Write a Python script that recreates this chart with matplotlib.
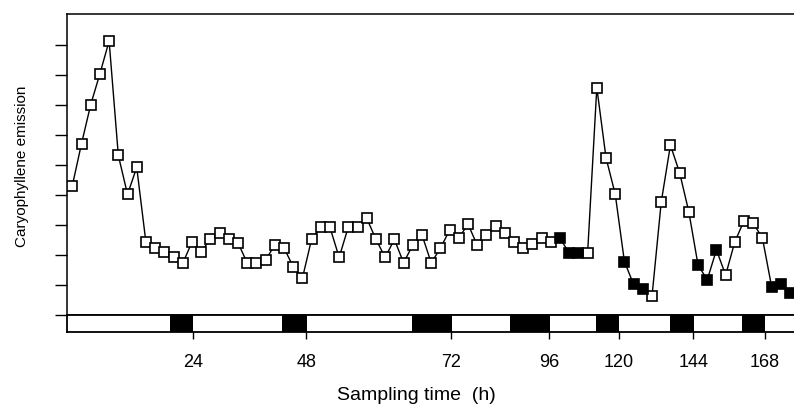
import matplotlib
matplotlib.use("Agg")
import matplotlib.pyplot as plt
import numpy as np

plt.rcParams['font.family'] = ['Liberation Sans', 'DejaVu Sans']

# emission per sample (sample index along x, arbitrary units)
emission = [4.31, 5.71, 7.01, 8.04, 9.13, 5.32, 4.02, 4.92, 2.42, 2.22,
            2.11, 1.92, 1.72, 2.43, 2.11, 2.52, 2.72, 2.53, 2.41, 1.74,
            1.72, 1.83, 2.33, 2.24, 1.61, 1.22, 2.52, 2.92, 2.92, 1.92,
            2.94, 2.92, 3.22, 2.52, 1.92, 2.52, 1.74, 2.33, 2.67, 1.74,
            2.22, 2.83, 2.56, 3.03, 2.33, 2.67, 2.97, 2.74, 2.44, 2.22,
            2.36, 2.58, 2.44, 2.56, 2.06, 2.06, 2.06, 7.58, 5.24, 4.03,
            1.78, 1.02, 0.86, 0.63, 3.76, 5.66, 4.74, 3.44, 1.67, 1.17,
            2.17, 1.33, 2.44, 3.14, 3.06, 2.56, 0.94, 1.03, 0.74]
# samples drawn with filled symbols
filled_idx = [53, 54, 55, 60, 61, 62, 68, 69, 70, 76, 77, 78]

# dark periods (in sample-index units)
dark_start = [10.62, 22.83, 36.89, 47.58, 56.92, 64.97, 72.76]
dark_end = [13.15, 25.48, 41.24, 51.92, 59.46, 67.58, 75.29]

# time ticks (h) at their sample-index positions
tick_pos = [13.15, 25.45, 41.15, 51.85, 59.4, 67.5, 75.25]
tick_labels = ['24', '48', '72', '96', '120', '144', '168']

x = np.arange(len(emission))
y = np.array(emission)
is_filled = np.zeros(len(emission), dtype=bool)
is_filled[filled_idx] = True

fig = plt.figure(figsize=(7.94, 4.05), dpi=100)
W, H = 794.0, 405.0
ax = fig.add_axes([66.7 / W, 1 - 315 / H, (W - 66.7) / W, (315 - 14) / H])
axb = fig.add_axes([66.7 / W, 1 - 332 / H, (W - 66.7) / W, 17 / H], sharex=ax)

ax.plot(x, y, color='black', lw=1.0, zorder=2)
ax.plot(x[~is_filled], y[~is_filled], 's', ms=6.8, mfc='white', mec='black',
        mew=1.2, ls='none', zorder=3)
ax.plot(x[is_filled], y[is_filled], 's', ms=6.8, mfc='black', mec='black',
        mew=1.2, ls='none', zorder=3)

ax.set_xlim(-0.61, 78.43)
ax.set_ylim(0, 10.03)
ax.set_yticks(np.arange(0, 10, 1))
ax.set_yticklabels([])
ax.tick_params(axis='y', direction='out', length=9, width=1.0)
ax.tick_params(axis='x', bottom=False, labelbottom=False)
ax.spines['right'].set_visible(False)
for s in ['left', 'top', 'bottom']:
    ax.spines[s].set_linewidth(1.1)

# light/dark bar
for s0, s1 in zip(dark_start, dark_end):
    axb.axvspan(s0, s1, color='black', lw=0)
axb.set_ylim(0, 1)
axb.set_yticks([])
axb.spines['right'].set_visible(False)
for s in ['left', 'top', 'bottom']:
    axb.spines[s].set_linewidth(1.3)
axb.set_xticks(tick_pos)
axb.set_xticklabels(tick_labels, fontsize=13)
axb.tick_params(axis='x', direction='out', length=5, width=1.0, pad=11)

fig.text(416 / W, 1 - 396 / H, 'Sampling time  (h)', ha='center',
         va='center', fontsize=14)
fig.text(22 / W, 1 - 166 / H, 'Caryophyllene emission', rotation=90,
         ha='center', va='center', fontsize=11)

fig.savefig('out.png', dpi=100)
